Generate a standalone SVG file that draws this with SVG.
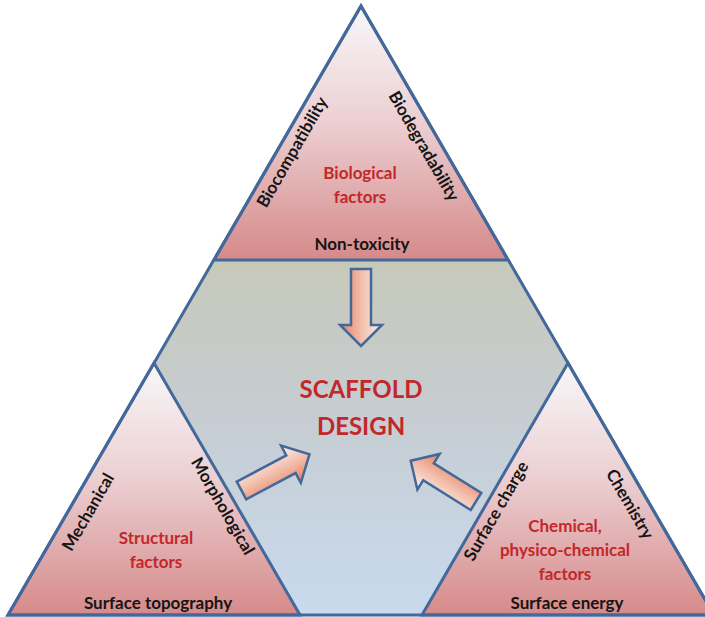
<svg xmlns="http://www.w3.org/2000/svg" width="705" height="617" viewBox="0 0 705 617">
<defs>
<linearGradient id="triGrad" x1="0" y1="0" x2="0" y2="1">
<stop offset="0" stop-color="#f8f7f9"/>
<stop offset="0.45" stop-color="#ecd0d3"/>
<stop offset="1" stop-color="#d68a8a"/>
</linearGradient>
<linearGradient id="hexGrad" x1="0" y1="0" x2="0" y2="1">
<stop offset="0" stop-color="#c7c9ba"/>
<stop offset="0.4" stop-color="#c6ccd0"/>
<stop offset="1" stop-color="#c8daee"/>
</linearGradient>
<linearGradient id="arrowGrad" x1="0" y1="0" x2="0" y2="1">
<stop offset="0" stop-color="#fbf1ef"/>
<stop offset="0.5" stop-color="#f2bda9"/>
<stop offset="1" stop-color="#e8805f"/>
</linearGradient>
<polygon id="arrowShape" points="0,-10 56,-10 56,-21 77,0 56,21 56,10 0,10"/>
</defs>
<style>
.tri{fill:url(#triGrad);stroke:#43689a;stroke-width:3;stroke-linejoin:miter}
.outline{fill:none;stroke:#43689a;stroke-width:3;stroke-linejoin:miter}
.arrow{fill:url(#arrowGrad);stroke:#43689a;stroke-width:2.5;stroke-linejoin:miter}
text{font-family:Lato,"Open Sans","Liberation Sans",sans-serif;font-weight:bold;text-anchor:middle}
.lbl{font-size:17px;fill:#151515}
.fac{font-size:17px;fill:#c2272a}
.title{font-size:24px;fill:#c2272a}
</style>
<g id="center">
<polygon points="214,260 508,260 568,363 422,615 300,615 154,363" fill="url(#hexGrad)"/>
<text class="title" x="361" y="398">SCAFFOLD</text>
<text class="title" x="361" y="435">DESIGN</text>
</g>
<g id="biological">
<polygon class="tri" points="361,6 508,260 214,260"/>
<text class="fac" x="360" y="179">Biological</text>
<text class="fac" x="360" y="203">factors</text>
<text class="lbl" x="362" y="250">Non-toxicity</text>
<text class="lbl" transform="translate(292,152) rotate(-60)" dy="0.35em">Biocompatibility</text>
<text class="lbl" transform="translate(424,146) rotate(60)" dy="0.35em">Biodegradability</text>
</g>
<g id="structural">
<polygon class="tri" points="154,363 300,615 8,615"/>
<text class="fac" x="156" y="544">Structural</text>
<text class="fac" x="156" y="568">factors</text>
<text class="lbl" x="158" y="609">Surface topography</text>
<text class="lbl" transform="translate(88,512) rotate(-60)" dy="0.35em">Mechanical</text>
<text class="lbl" transform="translate(223,506) rotate(60)" dy="0.35em">Morphological</text>
</g>
<g id="chemical">
<polygon class="tri" points="568,363 714,615 422,615"/>
<text class="fac" x="565" y="532">Chemical,</text>
<text class="fac" x="565" y="556">physico-chemical</text>
<text class="fac" x="565" y="580">factors</text>
<text class="lbl" x="567" y="609">Surface energy</text>
<text class="lbl" transform="translate(496,511) rotate(-60)" dy="0.35em">Surface charge</text>
<text class="lbl" transform="translate(630,504) rotate(60)" dy="0.35em">Chemistry</text>
</g>
<g id="frame">
<polygon class="outline" points="361,6 714,615 8,615"/>
</g>
<g id="connectors">
<use href="#arrowShape" class="arrow" transform="translate(361,269) rotate(90)"/>
<use href="#arrowShape" class="arrow" transform="translate(241.5,490.5) rotate(-28)"/>
<use href="#arrowShape" class="arrow" transform="translate(476,501.5) rotate(212)"/>
</g>
</svg>
